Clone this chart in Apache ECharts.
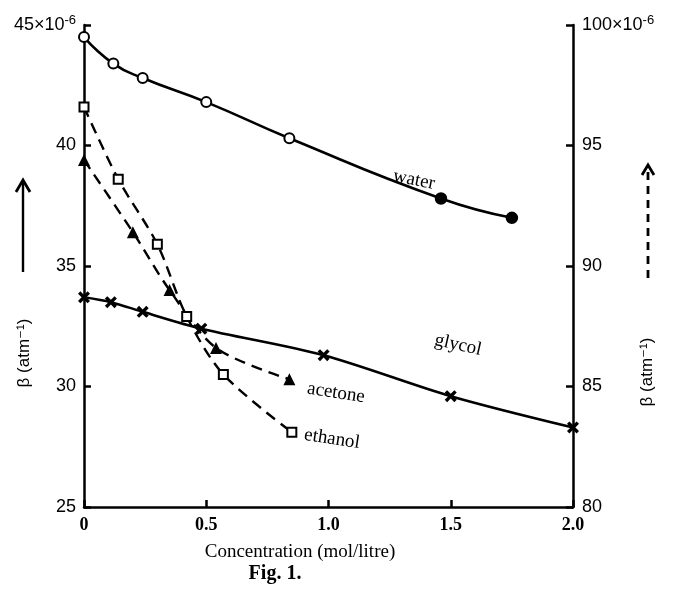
<!DOCTYPE html>
<html>
<head>
<meta charset="utf-8">
<script src="https://cdn.jsdelivr.net/npm/echarts@6/dist/echarts.min.js"></script>
<style>
html,body{margin:0;padding:0;background:#fff;}
#chart{width:674px;height:598px;}
</style>
</head>
<body>
<div id="chart"></div>
<script>
// left axis (solid lines)
var waterX=[0,0.12,0.24,0.5,0.84,1.46,1.75];
var waterY=[44.5,43.4,42.8,41.8,40.3,37.8,37.0];
var glycolX=[0,0.11,0.24,0.48,0.98,1.5,2.0];
var glycolY=[33.7,33.5,33.1,32.4,31.3,29.6,28.3];
// right axis (dashed lines)
var acetoneX=[0,0.2,0.35,0.54,0.84];
var acetoneY=[94.4,91.4,89.0,86.6,85.3];
var ethanolX=[0,0.14,0.3,0.42,0.57,0.85];
var ethanolY=[96.6,93.6,90.9,87.9,85.5,83.1];
var xTicks=[0,0.5,1.0,1.5,2.0];

function pairs(xs,ys){
	var out=[];
	for(var i=0;i<xs.length;i++){
		out.push([xs[i],ys[i]]);
	}
	return out;
}

// last two water points are drawn filled in the figure
function waterData(){
	var d=pairs(waterX,waterY);
	var out=[];
	for(var i=0;i<d.length;i++){
		if(i>=5){
			out.push({value:d[i],symbol:'circle',itemStyle:{color:'#000'}});
		}else{
			out.push({value:d[i]});
		}
	}
	return out;
}

var serif='"Liberation Serif","DejaVu Serif",serif';
var sans='"Liberation Sans","DejaVu Sans",sans-serif';
var crossSym='path://M0,2 L2,0 L5,3 L8,0 L10,2 L7,5 L10,8 L8,10 L5,7 L2,10 L0,8 L3,5 Z';

var mychart=echarts.init(document.getElementById('chart'));
var option={
	backgroundColor:'#fff',
	animation:false,
	grid:{left:84,right:101,top:25,bottom:91},
	xAxis:{
		type:'value',min:0,max:2,interval:0.5,
		axisLine:{lineStyle:{color:'#000',width:2.5}},
		axisTick:{inside:true,length:7,lineStyle:{color:'#000',width:2.5}},
		splitLine:{show:false},
		axisLabel:{
			color:'#000',fontFamily:serif,fontSize:18,fontWeight:'bold',margin:9,
			formatter:function(v){
				if(xTicks.indexOf(v)<0) return '';
				return v===0?'0':v.toFixed(1);
			}
		}
	},
	yAxis:[
		{
			type:'value',min:25,max:45,interval:5,position:'left',
			axisLine:{show:true,lineStyle:{color:'#000',width:2.5}},
			axisTick:{show:true,inside:true,length:7,lineStyle:{color:'#000',width:2.5}},
			splitLine:{show:false},
			axisLabel:{
				color:'#000',fontFamily:sans,fontSize:18,margin:8,
				formatter:function(v){
					if(v===45) return '{a|45×10}{s|-6}';
					return '{a|'+v+'}';
				},
				rich:{
					a:{fontFamily:sans,fontSize:18,color:'#000'},
					s:{fontFamily:sans,fontSize:13,color:'#000',verticalAlign:'top',padding:[0,0,10,0]}
				}
			}
		},
		{
			type:'value',min:80,max:100,interval:5,position:'right',
			axisLine:{show:true,lineStyle:{color:'#000',width:2.5}},
			axisTick:{show:true,inside:true,length:7,lineStyle:{color:'#000',width:2.5}},
			splitLine:{show:false},
			axisLabel:{
				color:'#000',fontFamily:sans,fontSize:18,margin:9,
				formatter:function(v){
					if(v===100) return '{a|100×10}{s|-6}';
					return '{a|'+v+'}';
				},
				rich:{
					a:{fontFamily:sans,fontSize:18,color:'#000'},
					s:{fontFamily:sans,fontSize:13,color:'#000',verticalAlign:'top',padding:[0,0,10,0]}
				}
			}
		}
	],
	series:[
		{
			name:'water',type:'line',yAxisIndex:0,smooth:0.5,
			data:waterData(),
			symbol:'emptyCircle',symbolSize:10,
			lineStyle:{color:'#000',width:2.6},
			itemStyle:{color:'#000',borderColor:'#000',borderWidth:2.5}
		},
		{
			name:'glycol',type:'line',yAxisIndex:0,smooth:0.3,
			data:pairs(glycolX,glycolY),
			symbol:crossSym,symbolSize:12,
			lineStyle:{color:'#000',width:2.6},
			itemStyle:{color:'#000'}
		},
		{
			name:'acetone',type:'line',yAxisIndex:1,smooth:0.3,
			data:pairs(acetoneX,acetoneY),
			symbol:'triangle',symbolSize:12,
			lineStyle:{color:'#000',width:2.4,type:[11,7]},
			itemStyle:{color:'#000'}
		},
		{
			name:'ethanol',type:'line',yAxisIndex:1,smooth:0.3,
			data:pairs(ethanolX,ethanolY),
			symbol:'emptyRect',symbolSize:9,
			lineStyle:{color:'#000',width:2.4,type:[11,7]},
			itemStyle:{color:'#000',borderColor:'#000',borderWidth:2.4}
		}
	],
	graphic:[
		{type:'text',x:414,y:180,rotation:-0.2,style:{text:'water',font:'19px '+serif,fill:'#000',align:'center',verticalAlign:'middle'}},
		{type:'text',x:458,y:345,rotation:-0.22,style:{text:'glycol',font:'19px '+serif,fill:'#000',align:'center',verticalAlign:'middle'}},
		{type:'text',x:336,y:393,rotation:-0.15,style:{text:'acetone',font:'19px '+serif,fill:'#000',align:'center',verticalAlign:'middle'}},
		{type:'text',x:332,y:439,rotation:-0.15,style:{text:'ethanol',font:'19px '+serif,fill:'#000',align:'center',verticalAlign:'middle'}},
		// left axis name with solid arrow
		{type:'text',x:24,y:353,rotation:Math.PI/2,style:{text:'β (atm⁻¹)',font:'17px '+sans,fill:'#000',align:'center',verticalAlign:'middle'}},
		{type:'line',shape:{x1:23,y1:272,x2:23,y2:183},style:{stroke:'#000',lineWidth:2.4}},
		{type:'polyline',shape:{points:[[16,192],[23,180],[30,192]]},style:{stroke:'#000',lineWidth:2.8,fill:null}},
		// right axis name with dashed arrow
		{type:'text',x:647,y:372,rotation:Math.PI/2,style:{text:'β (atm⁻¹)',font:'17px '+sans,fill:'#000',align:'center',verticalAlign:'middle'}},
		{type:'line',shape:{x1:648,y1:278,x2:648,y2:172},style:{stroke:'#000',lineWidth:2.8,lineDash:[8,6]}},
		{type:'polyline',shape:{points:[[642,175],[648,165],[654,175]]},style:{stroke:'#000',lineWidth:2.8,fill:null}},
		// x axis name and caption
		{type:'text',x:300,y:552,style:{text:'Concentration (mol/litre)',font:'19px '+serif,fill:'#000',align:'center',verticalAlign:'middle'}},
		{type:'text',x:275,y:574,style:{text:'Fig. 1.',font:'bold 20px '+serif,fill:'#000',align:'center',verticalAlign:'middle'}}
	]
};
mychart.setOption(option);
</script>
</body>
</html>
